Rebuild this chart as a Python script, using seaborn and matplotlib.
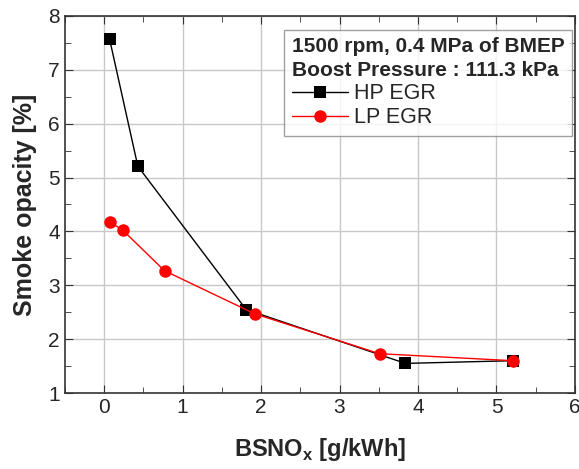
import pandas as pd
import matplotlib.pyplot as plt
import seaborn as sns
from matplotlib.ticker import MultipleLocator

# data
hp_x = [0.07, 0.43, 1.81, 3.84, 5.21]
hp_y = [7.57, 5.21, 2.55, 1.55, 1.60]
lp_x = [0.07, 0.24, 0.77, 1.92, 3.51, 5.21]
lp_y = [4.18, 4.02, 3.27, 2.47, 1.73, 1.60]

df = pd.concat([
    pd.DataFrame({'BSNOx': hp_x, 'Smoke': hp_y, 'EGR': 'HP EGR'}),
    pd.DataFrame({'BSNOx': lp_x, 'Smoke': lp_y, 'EGR': 'LP EGR'}),
])

sns.set_style('ticks')
plt.rcParams['font.family'] = ['Liberation Sans', 'DejaVu Sans']

fig = plt.figure(figsize=(5.79, 4.69), dpi=100)
ax = fig.add_axes([0.112, 0.162, 0.881, 0.804])

sns.lineplot(data=df, x='BSNOx', y='Smoke', hue='EGR', style='EGR',
             palette={'HP EGR': 'black', 'LP EGR': 'red'},
             markers={'HP EGR': 's', 'LP EGR': 'o'}, dashes=False,
             markersize=9, markeredgewidth=0, linewidth=1, sort=False,
             ax=ax, zorder=3)

ax.set_xlim(-0.5, 6)
ax.set_ylim(1, 8)
ax.xaxis.set_major_locator(MultipleLocator(1))
ax.xaxis.set_minor_locator(MultipleLocator(0.5))
ax.yaxis.set_major_locator(MultipleLocator(1))
ax.yaxis.set_minor_locator(MultipleLocator(0.5))
ax.grid(True, which='major', color='#c8c8c8', linewidth=1)
ax.tick_params(which='both', direction='in', top=True, right=True,
               labelsize=15, color='#333333')
ax.tick_params(which='major', length=6)
ax.tick_params(which='minor', length=4)
for s in ax.spines.values():
    s.set_linewidth(1.2)
    s.set_color('#333333')

ax.set_xlabel('BSNO$_\\mathregular{x}$ [g/kWh]', fontsize=17, fontweight='bold', labelpad=14)
ax.set_ylabel('Smoke opacity [%]', fontsize=18, fontweight='bold', labelpad=8)

leg = ax.legend(title='1500 rpm, 0.4 MPa of BMEP\nBoost Pressure : 111.3 kPa',
                title_fontproperties={'weight': 'bold', 'size': 15},
                fontsize=15.5, loc='upper right', bbox_to_anchor=(0.994, 0.963),
                borderaxespad=0, alignment='left', frameon=True, fancybox=False,
                edgecolor='#888888', handlelength=2.6, handletextpad=0.3,
                borderpad=0.35, labelspacing=0.15)
leg.get_title().set_linespacing(1.3)
leg.get_frame().set_linewidth(1)

fig.savefig('out.png', dpi=100)
